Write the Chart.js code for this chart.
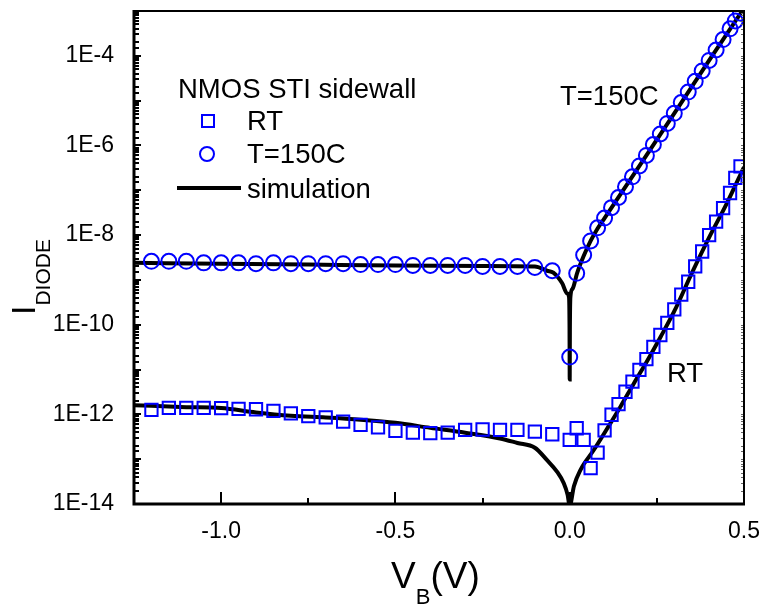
<!DOCTYPE html>
<html>
<head>
<meta charset="utf-8">
<script src="https://cdn.jsdelivr.net/npm/chart.js@4"></script>
<style>
  body { margin: 0; background: #fff; }
  #wrap { position: relative; width: 763px; height: 608px; font-family: "Liberation Sans", Arial, sans-serif; color: #000; }
  #wrap canvas { position: absolute; left: 0; top: 0; }
  .txt { position: absolute; white-space: nowrap; line-height: 1; }
  .t27 { font-size: 27.5px; line-height: 27px; }
</style>
</head>
<body>
<div id="wrap">
  <canvas id="myChart" width="763" height="608"></canvas>

  <!-- legend -->
  <div class="txt t27" style="left:178px; top:75px;">NMOS STI sidewall</div>
  <div style="position:absolute; left:201px; top:114px; width:14px; height:14px; box-sizing:border-box; border:2px solid #0000ff;"></div>
  <div class="txt t27" style="left:247px; top:107px;">RT</div>
  <div style="position:absolute; left:199px; top:146px; width:16px; height:16px; box-sizing:border-box; border:2px solid #0000ff; border-radius:50%;"></div>
  <div class="txt t27" style="left:247px; top:140px;">T=150C</div>
  <div style="position:absolute; left:177px; top:186px; width:64px; height:4px; background:#000;"></div>
  <div class="txt t27" style="left:247px; top:175px;">simulation</div>

  <!-- annotations -->
  <div class="txt t27" style="left:560px; top:82px;">T=150C</div>
  <div class="txt t27" style="left:667px; top:359px;">RT</div>

  <!-- axis titles -->
  <div class="txt" style="left:391px; top:557px; font-size:37px; line-height:37px;">V<span style="font-size:22px; vertical-align:-16px;">B</span>(V)</div>
  <div class="txt" style="left:6px; top:315px; font-size:34px; line-height:34px; transform-origin:0 0; transform:rotate(-90deg);">I<span style="font-size:21px; vertical-align:-15px;">DIODE</span></div>
</div>

<script>
// tick labels
const xTickLabels = ['-1.0', '-0.5', '0.0', '0.5'];
const yTickLabels = ['1E-14', '1E-12', '1E-10', '1E-8', '1E-6', '1E-4'];

// RT measurement (squares)
const rtV = [-1.2, -1.15, -1.1, -1.05, -1.0, -0.95, -0.9, -0.85, -0.8, -0.75, -0.7, -0.65,
  -0.6, -0.55, -0.5, -0.45, -0.4, -0.35, -0.3, -0.25, -0.2, -0.15, -0.1, -0.05,
  0.0, 0.02, 0.04, 0.06, 0.08, 0.1, 0.12, 0.14, 0.16, 0.18, 0.2, 0.22, 0.24, 0.26,
  0.28, 0.3, 0.32, 0.34, 0.36, 0.38, 0.4, 0.42, 0.44, 0.46, 0.475, 0.49];
const rtI = [1.26e-12, 1.4e-12, 1.4e-12, 1.4e-12, 1.38e-12, 1.32e-12, 1.3e-12, 1.2e-12, 1.05e-12, 9.1e-13, 8.6e-13, 6.9e-13,
  5.8e-13, 5.1e-13, 4.3e-13, 3.9e-13, 3.8e-13, 3.9e-13, 4.5e-13, 4.6e-13, 4.5e-13, 4.5e-13, 4.1e-13, 3.6e-13,
  2.7e-13, 4.9e-13, 2.7e-13, 6.3e-14, 1.4e-13, 4.4e-13, 9.8e-13, 1.7e-12, 3.2e-12, 5.4e-12, 9.8e-12, 1.7e-11, 3.2e-11, 5.9e-11,
  1.1e-10, 2.2e-10, 4.7e-10, 9.1e-10, 2.0e-9, 4.3e-9, 1.0e-8, 2.0e-8, 4.0e-8, 8.7e-8, 1.9e-7, 3.4e-7];

// T=150C measurement (circles)
const hotV = [-1.2, -1.15, -1.1, -1.05, -1.0, -0.95, -0.9, -0.85, -0.8, -0.75, -0.7, -0.65,
  -0.6, -0.55, -0.5, -0.45, -0.4, -0.35, -0.3, -0.25, -0.2, -0.15, -0.1, -0.05,
  0.0, 0.02, 0.04, 0.06, 0.08, 0.1, 0.12, 0.14, 0.16, 0.18, 0.2, 0.22, 0.24, 0.26,
  0.28, 0.3, 0.32, 0.34, 0.36, 0.38, 0.4, 0.42, 0.44, 0.46, 0.475, 0.49];
const hotI = [2.6e-9, 2.6e-9, 2.6e-9, 2.4e-9, 2.4e-9, 2.4e-9, 2.3e-9, 2.4e-9, 2.3e-9, 2.3e-9, 2.3e-9, 2.3e-9,
  2.2e-9, 2.2e-9, 2.2e-9, 2.1e-9, 2.1e-9, 2.1e-9, 2.1e-9, 2.0e-9, 2.0e-9, 2.0e-9, 1.9e-9, 1.6e-9,
  1.9e-11, 1.4e-9, 3.6e-9, 7.4e-9, 1.45e-8, 2.4e-8, 4.1e-8, 6.9e-8, 1.2e-7, 2.0e-7, 3.5e-7, 6.0e-7, 1.05e-6, 1.8e-6,
  3.1e-6, 5.2e-6, 9.1e-6, 1.55e-5, 2.7e-5, 4.6e-5, 7.9e-5, 1.35e-4, 2.3e-4, 4.0e-4, 6.0e-4, 8.9e-4];

// simulation curves
const simRtV = [-1.25, -1.1, -1.0, -0.9, -0.8, -0.7, -0.6, -0.5, -0.4, -0.3, -0.2, -0.15, -0.1,
  -0.065, -0.036, -0.017, -0.006, 0.0, 0.012, 0.031, 0.069, 0.108, 0.146, 0.184, 0.223, 0.261,
  0.3, 0.35, 0.4, 0.45, 0.5];
const simRtI = [1.6e-12, 1.45e-12, 1.38e-12, 1.1e-12, 9.3e-13, 8.5e-13, 7.6e-13, 6.5e-13, 5.0e-13, 3.9e-13, 2.9e-13, 2.3e-13, 1.8e-13,
  9.5e-14, 5.2e-14, 2.9e-14, 1.6e-14, 9e-15, 2.5e-14, 5.8e-14, 1.6e-13, 4.9e-13, 1.5e-12, 4.9e-12, 1.6e-11, 5.4e-11,
  2.0e-10, 1.4e-9, 8.9e-9, 5.0e-8, 3.3e-7];
const simHotV = [-1.25, -1.0, -0.75, -0.5, -0.25, -0.1, -0.065, -0.047, -0.022, -0.0075, -0.002, -0.0005,
  0.0, 0.0005, 0.002, 0.008, 0.021, 0.04, 0.06, 0.08, 0.1, 0.2, 0.3, 0.4, 0.5];
const simHotI = [2.4e-9, 2.3e-9, 2.2e-9, 2.1e-9, 2.05e-9, 2.0e-9, 1.6e-9, 1.45e-9, 8.5e-10, 5.0e-10, 4.2e-10, 7.6e-11,
  6e-12, 7.6e-11, 4.2e-10, 6.3e-10, 1.4e-9, 3.4e-9, 7.4e-9, 1.4e-8, 2.4e-8, 3.5e-7, 5.2e-6, 7.9e-5, 1.15e-3];

function pts(xs, ys) {
    return xs.map((v, i) => ({ x: v, y: ys[i] }));
}

// inward tick marks + frame, drawn from the chart's own scales
const frameTicks = {
    id: 'frameTicks',
    afterDraw(chart) {
        const { ctx, chartArea: a, scales } = chart;
        const x = scales.x, y = scales.y;
        ctx.save();
        ctx.strokeStyle = '#000';

        ctx.lineWidth = 2;
        y.ticks.forEach(t => {
            const py = Math.round(y.getPixelForValue(t.value));
            const e = Math.log10(t.value);
            const major = Math.abs(e - Math.round(e)) < 1e-6;
            const len = major ? 7 : 5;
            ctx.beginPath();
            ctx.moveTo(a.left, py);
            ctx.lineTo(a.left + len, py);
            ctx.stroke();
        });
        ctx.lineWidth = 1;
        ctx.strokeStyle = '#666';
        y.ticks.forEach(t => {
            const py = Math.round(y.getPixelForValue(t.value)) + 0.5;
            ctx.beginPath();
            ctx.moveTo(a.right, py);
            ctx.lineTo(a.right - 3, py);
            ctx.stroke();
        });

        ctx.strokeStyle = '#000';
        ctx.lineWidth = 2;
        x.ticks.forEach(t => {
            const px = Math.round(x.getPixelForValue(t.value));
            const major = Math.abs(t.value * 2 - Math.round(t.value * 2)) < 1e-9;
            const len = major ? 12 : 6;
            ctx.beginPath();
            ctx.moveTo(px, a.bottom);
            ctx.lineTo(px, a.bottom - len);
            ctx.stroke();
        });

        // frame
        ctx.lineWidth = 2;
        ctx.beginPath();
        ctx.moveTo(a.left, a.top);
        ctx.lineTo(a.right, a.top);
        ctx.lineTo(a.right, a.bottom);
        ctx.stroke();
        ctx.lineWidth = 3;
        ctx.beginPath();
        ctx.moveTo(a.left, a.top - 1);
        ctx.lineTo(a.left, a.bottom);
        ctx.lineTo(a.right + 1, a.bottom);
        ctx.stroke();
        ctx.restore();
    }
};

const config = {
    type: 'scatter',
    data: {
        datasets: [
            {
                label: 'T=150C',
                data: pts(hotV, hotI),
                pointStyle: 'circle',
                pointRadius: 7.5,
                borderColor: '#0000ff',
                backgroundColor: 'rgba(0,0,0,0)',
                borderWidth: 2,
                showLine: false
            },
            {
                label: 'RT',
                data: pts(rtV, rtI),
                pointStyle: 'rect',
                pointRadius: 8.7,
                borderColor: '#0000ff',
                backgroundColor: 'rgba(0,0,0,0)',
                borderWidth: 2,
                showLine: false
            },
            {
                label: 'simulation',
                data: pts(simHotV, simHotI),
                showLine: true,
                borderColor: '#000',
                borderWidth: 4,
                pointRadius: 0,
                cubicInterpolationMode: 'monotone'
            },
            {
                label: 'simulation RT',
                data: pts(simRtV, simRtI),
                showLine: true,
                borderColor: '#000',
                borderWidth: 4,
                pointRadius: 0,
                cubicInterpolationMode: 'monotone'
            }
        ]
    },
    options: {
        responsive: false,
        animation: false,
        layout: { padding: { left: 0, right: 19, top: 11, bottom: 0 } },
        plugins: { legend: { display: false }, tooltip: { enabled: false } },
        scales: {
            x: {
                type: 'linear',
                min: -1.25,
                max: 0.5,
                grid: { display: false },
                border: { display: false },
                afterFit: s => { s.height = 104; s.paddingLeft = 0; s.paddingRight = 0; },
                ticks: {
                    stepSize: 0.25,
                    autoSkip: false,
                    maxRotation: 0,
                    padding: 6,
                    color: '#000',
                    font: { family: '"Liberation Sans", Arial, sans-serif', size: 23 },
                    callback: v => {
                        const lab = Number(v).toFixed(1);
                        return (Math.abs(v * 2 - Math.round(v * 2)) < 1e-9 && xTickLabels.includes(lab)) ? lab : '';
                    }
                }
            },
            y: {
                type: 'logarithmic',
                min: 1e-14,
                max: 1e-3,
                grid: { display: false },
                border: { display: false },
                afterFit: s => { s.width = 134; s.paddingTop = 0; s.paddingBottom = 0; },
                ticks: {
                    autoSkip: false,
                    padding: 12,
                    color: '#000',
                    font: { family: '"Liberation Sans", Arial, sans-serif', size: 23 },
                    callback: v => {
                        const e = Math.log10(v);
                        if (Math.abs(e - Math.round(e)) > 1e-6) return '';
                        const lab = '1E' + Math.round(e);
                        return yTickLabels.includes(lab) ? lab : '';
                    }
                }
            }
        }
    },
    plugins: [frameTicks]
};

const myChart = new Chart(document.getElementById('myChart'), config);
</script>
</body>
</html>
